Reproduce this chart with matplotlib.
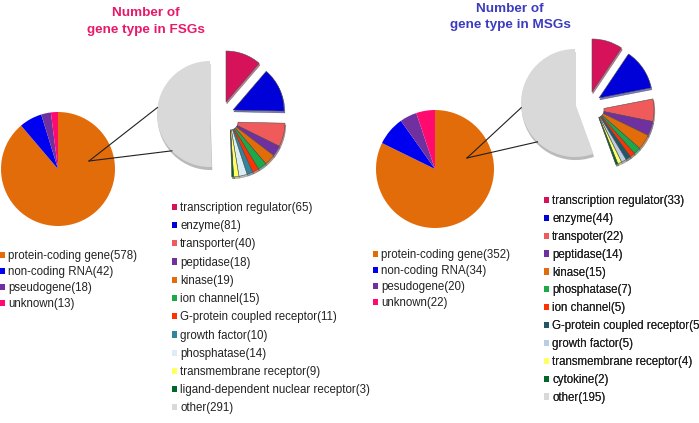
import matplotlib.pyplot as plt
from matplotlib.patches import Patch
import numpy as np

plt.rcParams['font.family'] = ['Liberation Sans', 'DejaVu Sans']

# ---- data: FSGs
fsg_types = ['protein-coding gene', 'non-coding RNA', 'pseudogene', 'unknown']
fsg_type_counts = [578, 42, 18, 13]
fsg_funcs = ['transcription regulator', 'enzyme', 'transporter', 'peptidase', 'kinase',
             'ion channel', 'G-protein coupled receptor', 'growth factor', 'phosphatase',
             'transmembrane receptor', 'ligand-dependent nuclear receptor', 'other']
fsg_func_counts = [65, 81, 40, 18, 19, 15, 11, 10, 14, 9, 3, 291]

# ---- data: MSGs
msg_types = ['protein-coding gene', 'non-coding RNA', 'pesudogene', 'unknown']
msg_type_counts = [352, 34, 20, 22]
msg_funcs = ['transcription regulator', 'enzyme', 'transpoter', 'peptidase', 'kinase',
             'phosphatase', 'ion channel', 'G-protein coupled receptor', 'growth factor',
             'transmembrane receptor', 'cytokine', 'other']
msg_func_counts = [33, 44, 22, 14, 15, 7, 5, 5, 5, 4, 2, 195]

type_colors = ['#E36C0A', '#0000F0', '#7030A0', '#FF0A6E']
fsg_func_colors = ['#D6135A', '#0000D8', '#F05A5A', '#7030A0', '#E36C0A', '#1BAA4A',
                   '#FF3300', '#31859C', '#DAEEF3', '#FFFF66', '#00662A', '#D9D9D9']
msg_func_colors = ['#D6135A', '#0000D8', '#F05A5A', '#7030A0', '#E36C0A', '#1BAA4A',
                   '#FF3300', '#215868', '#B9CDE5', '#FFFF66', '#00662A', '#D9D9D9']

H = 423
fig = plt.figure(figsize=(6.99, 4.23), dpi=100)
ax = fig.add_axes([0, 0, 1, 1])


def Y(y):
    return H - y


def panel(types, tcounts, funcs, fcounts, fcolors, title, tcolor, lay):
    # main pie
    bx, by, br = lay['big']
    ax.pie(tcounts, colors=type_colors, startangle=90, counterclock=False,
           center=(bx, Y(by)), radius=br, wedgeprops=dict(linewidth=0))

    total = sum(fcounts)
    frac = np.array(fcounts) / total
    colored = frac[:-1]
    # "other" part
    gx, gy, gr = lay['gray']
    ax.pie([frac[-1]], colors=[fcolors[-1]], normalize=False,
           startangle=90 - 360 * colored.sum(), counterclock=False,
           center=(gx, Y(gy)), radius=gr, wedgeprops=dict(linewidth=0),
           shadow=dict(ox=0.4, oy=-2.2, shade=0.45))
    # exploded detail slices
    cx, cy, cr, r2 = lay['group']
    wedges, _ = ax.pie(colored, colors=fcolors[:-1], normalize=False, startangle=90,
                       counterclock=False, center=(cx, Y(cy)), radius=cr,
                       wedgeprops=dict(linewidth=0.4, edgecolor='#505050'),
                       shadow=dict(ox=0.6, oy=-1.3, shade=0.5))
    # the two largest slices pulled further out
    for w, (px, py) in zip(wedges[:2], lay['pulled']):
        w.set_radius(r2)
        w.set_center((px, Y(py)))
    for w in wedges[2:]:
        w.set_width(cr - 8)

    # connector lines
    sx, sy = lay['start']
    for a in lay['angles']:
        ex = gx + gr * np.cos(np.radians(a))
        ey = Y(gy) + gr * np.sin(np.radians(a))
        ax.plot([sx, ex], [Y(sy), ey], color='#202020', lw=0.8)

    # titles
    tx, ty1, ty2 = lay['title']
    ax.text(tx, Y(ty1), title[0], ha='center', va='center', color=tcolor,
            fontsize=9.7, fontweight='bold')
    ax.text(tx, Y(ty2), title[1], ha='center', va='center', color=tcolor,
            fontsize=9.7, fontweight='bold')

    # legends
    lx, ly, ls = lay['leg1']
    hs = [Patch(facecolor=c) for c in type_colors]
    labs = [f'{t}({n})' for t, n in zip(types, tcounts)]
    leg = ax.legend(hs, labs, loc='upper left', bbox_to_anchor=(lx - 8, Y(ly - 5)),
                    bbox_transform=ax.transData, frameon=False, borderpad=0,
                    borderaxespad=0, handlelength=0.45, handleheight=0.45,
                    handletextpad=0.25, labelspacing=ls, fontsize=8.3,
                    labelcolor='#222222')
    ax.add_artist(leg)
    lx, ly, ls = lay['leg2']
    hs = [Patch(facecolor=c) for c in fcolors]
    labs = [f'{t}({n})' for t, n in zip(funcs, fcounts)]
    leg = ax.legend(hs, labs, loc='upper left', bbox_to_anchor=(lx - 8, Y(ly - 5)),
                    bbox_transform=ax.transData, frameon=False, borderpad=0,
                    borderaxespad=0, handlelength=0.45, handleheight=0.45,
                    handletextpad=0.25, labelspacing=ls, fontsize=8.3,
                    labelcolor='#222222')
    ax.add_artist(leg)


panel(fsg_types, fsg_type_counts, fsg_funcs, fsg_func_counts, fsg_func_colors,
      ['Number of', 'gene type in FSGs'], '#E8196B',
      dict(big=(58, 169, 57), gray=(210, 114, 53), group=(230, 122, 55, 51),
           pulled=[(226, 102), (233, 110)], start=(89, 161), angles=[173, 224],
           title=(146, 13, 30), leg1=(8, 255, 0.35), leg2=(180, 207, 0.54)))

panel(msg_types, msg_type_counts, msg_funcs, msg_func_counts, msg_func_colors,
      ['Number of', 'gene type in MSGs'], '#3C3CC0',
      dict(big=(435, 169, 59), gray=(575, 103, 54), group=(596, 110, 58, 53),
           pulled=[(592, 92), (599, 98)], start=(467, 158), angles=[185, 226],
           title=(510, 9, 25), leg1=(381, 254, 0.35), leg2=(552, 200, 0.51)))

ax.set_xlim(0, 699)
ax.set_ylim(0, H)
ax.set_aspect('equal')
ax.axis('off')

fig.savefig('out.png', dpi=100)
